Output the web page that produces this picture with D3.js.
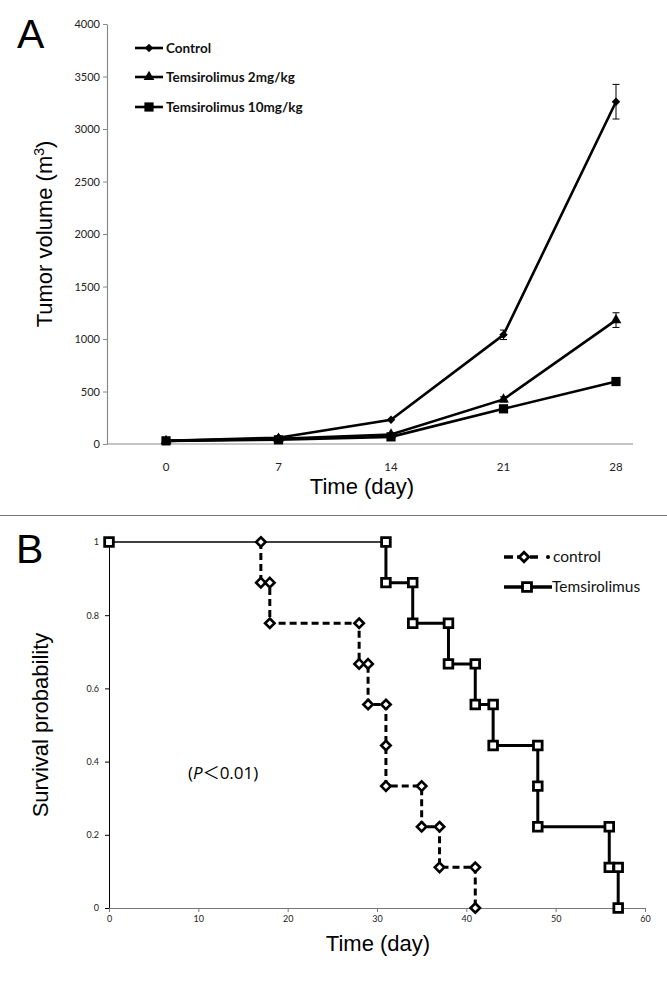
<!DOCTYPE html>
<html><head><meta charset="utf-8">
<script src="https://cdn.jsdelivr.net/npm/d3@7"></script>
<style>body{margin:0;background:#fff}svg{display:block}</style>
</head><body>
<svg id="c" width="667" height="983"></svg>
<script>
// ---- Panel A data ----
const days = ["0","7","14","21","28"];
const yTicksA = [0,500,1000,1500,2000,2500,3000,3500,4000];
const seriesNames = ["Control","Temsirolimus 2mg/kg","Temsirolimus 10mg/kg"];
const controlVals = [30,60,230,1040,3260];
const controlErr  = [0,0,0,45,165];
const tem2Vals    = [30,50,90,425,1180];
const tem2Err     = [0,0,0,25,70];
const tem10Vals   = [30,40,68,335,595];
const tem10Err    = [0,0,0,0,0];

// ---- Panel B data (Kaplan-Meier step points) ----
const kmControlTime = [0,17,17,18,18,28,28,29,29,31,31,31,35,35,37,37,41,41];
const kmControlSurv = [1,1,0.889,0.889,0.778,0.778,0.667,0.667,0.556,0.556,0.444,0.333,0.333,0.222,0.222,0.111,0.111,0];
const kmTemTime = [0,31,31,34,34,38,38,41,41,43,43,48,48,48,56,56,57,57];
const kmTemSurv = [1,1,0.889,0.889,0.778,0.778,0.667,0.667,0.556,0.556,0.444,0.444,0.333,0.222,0.222,0.111,0.111,0];
const xTicksB = [0,10,20,30,40,50,60];
const yTicksB = [0,0.2,0.4,0.6,0.8,1];
const legendB = ["control","Temsirolimus"];

const svg = d3.select("#c");
const tickFont = "Lato, 'Open Sans', sans-serif";
const titleFont = "'Liberation Sans', Arial, sans-serif";
const symDiamond = {draw(ctx,size){const r=Math.sqrt(size/2);ctx.moveTo(0,-r);ctx.lineTo(r,0);ctx.lineTo(0,r);ctx.lineTo(-r,0);ctx.closePath();}};

// ================= Panel A =================
const xA = d3.scalePoint().domain(days).range([166,616]);
const yA = d3.scaleLinear().domain([0,4000]).range([444,24]);
const gA = svg.append("g");

const yAxA = gA.append("g").attr("transform","translate(107,0)")
  .call(d3.axisLeft(yA).tickValues(yTicksA).tickSize(4).tickSizeOuter(0).tickFormat(d3.format("d")));
yAxA.select(".domain").attr("stroke","#8a8a8a").attr("stroke-width",1.2);
yAxA.selectAll(".tick line").attr("stroke","#8a8a8a");
yAxA.selectAll("text").attr("font-family",tickFont).attr("font-size",11).attr("fill","#222").attr("x",-7);

gA.append("line").attr("x1",107).attr("x2",633).attr("y1",yA(0)).attr("y2",yA(0))
  .attr("stroke","#8a8a8a").attr("stroke-width",1.2);
gA.selectAll(".xl").data(days).join("text")
  .attr("x",d=>xA(d)).attr("y",471).attr("text-anchor","middle")
  .attr("font-family",tickFont).attr("font-size",11.5).attr("fill","#222").text(d=>d);

gA.append("text").attr("x",17).attr("y",48).attr("font-family",titleFont).attr("font-size",41).text("A");
const yt = gA.append("text").attr("transform","translate(52,234) rotate(-90)")
  .attr("text-anchor","middle").attr("font-family",titleFont).attr("font-size",22);
yt.append("tspan").text("Tumor volume (m");
yt.append("tspan").attr("dy",-8).attr("font-size",14).text("3");
yt.append("tspan").attr("dy",8).text(")");
gA.append("text").attr("x",362).attr("y",494).attr("text-anchor","middle")
  .attr("font-family",titleFont).attr("font-size",22).text("Time (day)");

const seriesA = [
  {name:seriesNames[0], vals:controlVals, err:controlErr, sym:symDiamond, size:36},
  {name:seriesNames[1], vals:tem2Vals, err:tem2Err, sym:d3.symbolTriangle, size:50},
  {name:seriesNames[2], vals:tem10Vals, err:tem10Err, sym:d3.symbolSquare, size:85}
];
const lineA = d3.line().x((d,i)=>xA(days[i])).y(d=>yA(d));
seriesA.forEach(s=>{
  gA.append("path").attr("d",lineA(s.vals)).attr("fill","none").attr("stroke","#000").attr("stroke-width",2.6);
  s.vals.forEach((v,i)=>{
    if(s.err[i]>0){
      const x=xA(days[i]);
      gA.append("line").attr("x1",x).attr("x2",x).attr("y1",yA(v+s.err[i])).attr("y2",yA(v-s.err[i])).attr("stroke","#000").attr("stroke-width",1);
      [v+s.err[i],v-s.err[i]].forEach(e=>gA.append("line").attr("x1",x-3.5).attr("x2",x+3.5).attr("y1",yA(e)).attr("y2",yA(e)).attr("stroke","#000").attr("stroke-width",1));
    }
  });
  gA.selectAll(null).data(s.vals).join("path")
    .attr("transform",(d,i)=>`translate(${xA(days[i])},${yA(d)})`)
    .attr("d",d3.symbol().type(s.sym).size(s.size)).attr("fill","#000");
});
seriesA.forEach((s,i)=>{
  const y=[48,77,107][i];
  gA.append("line").attr("x1",135).attr("x2",163).attr("y1",y).attr("y2",y).attr("stroke","#000").attr("stroke-width",2.6);
  gA.append("path").attr("transform",`translate(149,${y})`).attr("d",d3.symbol().type(s.sym).size(s.size)).attr("fill","#000");
  gA.append("text").attr("x",166).attr("y",y+4.5).attr("font-family",tickFont).attr("font-weight","bold")
    .attr("font-size",13.5).attr("fill","#111").text(s.name);
});

svg.append("line").attr("x1",0).attr("x2",667).attr("y1",515.5).attr("y2",515.5).attr("stroke","#777").attr("stroke-width",1.2);

// ================= Panel B =================
const xB = d3.scaleLinear().domain([0,60]).range([109,645]);
const yB = d3.scaleLinear().domain([0,1]).range([908,542]);
const gB = svg.append("g");

const yAxB = gB.append("g").attr("transform","translate(109,0)")
  .call(d3.axisLeft(yB).tickValues(yTicksB).tickSize(4).tickSizeOuter(0).tickFormat(d=>d===0?"0":d===1?"1":d3.format(".1f")(d)));
yAxB.select(".domain").attr("stroke","#000").attr("stroke-width",1);
yAxB.selectAll("text").attr("font-family",tickFont).attr("font-size",9).attr("fill","#222").attr("x",-10);

const xAxB = gB.append("g").attr("transform","translate(0,908)")
  .call(d3.axisBottom(xB).tickValues(xTicksB).tickSize(4).tickSizeOuter(0));
xAxB.select(".domain").attr("stroke","#777");
xAxB.selectAll(".tick line").attr("stroke","#777");
xAxB.selectAll("text").attr("font-family",tickFont).attr("font-size",9).attr("fill","#222").attr("y",8);

gB.append("text").attr("x",16).attr("y",563).attr("font-family",titleFont).attr("font-size",41).text("B");
gB.append("text").attr("transform","translate(48,725) rotate(-90)").attr("text-anchor","middle")
  .attr("font-family",titleFont).attr("font-size",22).text("Survival probability");
gB.append("text").attr("x",378).attr("y",951).attr("text-anchor","middle")
  .attr("font-family",titleFont).attr("font-size",22).text("Time (day)");
const pt = gB.append("text").attr("x",188).attr("y",779).attr("font-family","'Open Sans', sans-serif").attr("font-size",17);
pt.append("tspan").text("(");
pt.append("tspan").attr("font-style","italic").text("P");
pt.append("tspan").attr("font-family","'Noto Sans CJK SC', sans-serif").text("＜");
pt.append("tspan").text("0.01)");

function kmPts(t,s){return t.map((d,i)=>[d,s[i]]);}
const ctrlPts = kmPts(kmControlTime,kmControlSurv);
const temPts = kmPts(kmTemTime,kmTemSurv);
const lineB = d3.line().x(d=>xB(d[0])).y(d=>yB(d[1]));

gB.append("path").attr("d",lineB(temPts.slice(0,2))).attr("fill","none").attr("stroke","#000").attr("stroke-width",1.5);
gB.append("path").attr("d",lineB(ctrlPts.slice(1))).attr("fill","none").attr("stroke","#000")
  .attr("stroke-width",3).attr("stroke-dasharray","7,4");
gB.append("path").attr("d",lineB(temPts.slice(1))).attr("fill","none").attr("stroke","#000").attr("stroke-width",3);

gB.selectAll(".dm").data(ctrlPts.slice(1)).join("path")
  .attr("transform",d=>`translate(${xB(d[0])},${yB(d[1])})`)
  .attr("d",d3.symbol().type(symDiamond).size(45)).attr("fill","#fff").attr("stroke","#000").attr("stroke-width",2.6);
gB.selectAll(".sq").data(temPts).join("path")
  .attr("transform",d=>`translate(${xB(d[0])},${yB(d[1])})`)
  .attr("d",d3.symbol().type(d3.symbolSquare).size(75)).attr("fill","#fff").attr("stroke","#000").attr("stroke-width",2.8);

const lgY=[557,587];
gB.append("line").attr("x1",504).attr("x2",538).attr("y1",lgY[0]).attr("y2",lgY[0]).attr("stroke","#000").attr("stroke-width",3.5).attr("stroke-dasharray","9,4");
gB.append("circle").attr("cx",548).attr("cy",lgY[0]).attr("r",2).attr("fill","#000");
gB.append("path").attr("transform",`translate(524,${lgY[0]})`).attr("d",d3.symbol().type(symDiamond).size(45)).attr("fill","#fff").attr("stroke","#000").attr("stroke-width",2.8);
gB.append("line").attr("x1",504).attr("x2",552).attr("y1",lgY[1]).attr("y2",lgY[1]).attr("stroke","#000").attr("stroke-width",3.5);
gB.append("path").attr("transform",`translate(527,${lgY[1]})`).attr("d",d3.symbol().type(d3.symbolSquare).size(80)).attr("fill","#fff").attr("stroke","#000").attr("stroke-width",2.8);
legendB.forEach((t,i)=>gB.append("text").attr("x",i===0?553:552).attr("y",lgY[i]+5).attr("font-family",tickFont).attr("font-size",15.5).attr("fill","#111").text(t));
</script>
</body></html>
